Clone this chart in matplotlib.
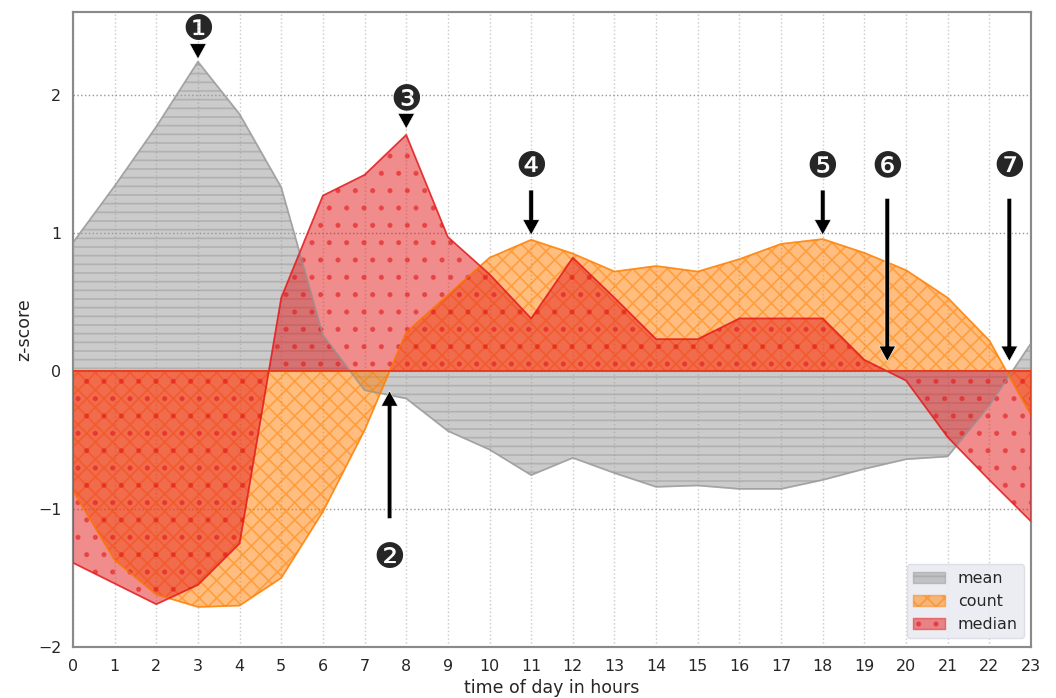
import matplotlib
matplotlib.use("Agg")
import matplotlib.pyplot as plt
import numpy as np

hours = list(range(24))
mean_z = [0.93, 1.34, 1.77, 2.24, 1.86, 1.33, 0.26, -0.14, -0.20, -0.435, -0.57, -0.755,
          -0.63, -0.74, -0.84, -0.83, -0.855, -0.855, -0.79, -0.71, -0.64, -0.62, -0.25, 0.20]
count_z = [-0.87, -1.37, -1.62, -1.71, -1.70, -1.50, -1.02, -0.43, 0.28, 0.55, 0.82, 0.95,
           0.85, 0.72, 0.76, 0.72, 0.81, 0.92, 0.955, 0.855, 0.73, 0.53, 0.22, -0.32]
median_z = [-1.39, -1.54, -1.69, -1.55, -1.25, 0.53, 1.27, 1.42, 1.71, 0.97, 0.70, 0.38,
            0.82, 0.53, 0.23, 0.23, 0.38, 0.38, 0.38, 0.08, -0.07, -0.48, -0.79, -1.09]
series_names = ["mean", "count", "median"]
y_ticks = [-2, -1, 0, 1, 2]

# label, arrow x, arrow tail y, arrow tip y, label y
notes = [("\u2776", 3, 2.37, 2.26, 2.47),
         ("\u2777", 7.6, -1.07, -0.145, -1.355),
         ("\u2778", 8, 1.865, 1.755, 1.957),
         ("\u2779", 11, 1.31, 0.985, 1.48),
         ("\u277a", 18, 1.31, 0.985, 1.485),
         ("\u277b", 19.55, 1.25, 0.07, 1.477),
         ("\u277c", 22.48, 1.25, 0.07, 1.477)]

DPI = 104
INK = "#262626"
plt.rcParams.update({"font.family": "DejaVu Sans", "hatch.linewidth": 1.2,
                     "text.color": INK, "axes.labelcolor": INK,
                     "xtick.color": INK, "ytick.color": INK})
fig = plt.figure(figsize=(1056 / DPI, 698 / DPI), dpi=DPI)
ax = fig.add_axes([73 / 1056, 1 - 647 / 698, 958 / 1056, 635 / 698])

styles = [("#999999", "--"), ("#ff7f00", "xx"), ("#e41a1c", ".")]
for vals, name, (col, hatch) in zip([mean_z, count_z, median_z], series_names, styles):
    ax.fill_between(hours, vals, 0, facecolor=col, edgecolor=col, hatch=hatch,
                    alpha=0.5, lw=1.0, label=name, zorder=2)
    ax.fill_between(hours, vals, 0, facecolor="none", edgecolor=col, lw=1.2, alpha=0.7, zorder=3)

ax.set_xlim(0, 23)
ax.set_ylim(-2, 2.6)
ax.set_xticks(hours)
ax.set_yticks(y_ticks)
ax.tick_params(length=0, pad=8, labelsize=11)
ax.grid(axis="x", ls=":", color="#cccccc", lw=1.0, zorder=1)
ax.grid(axis="y", ls=":", color="#999999", lw=1.0, zorder=1)
ax.set_axisbelow(True)
for s in ax.spines.values():
    s.set_color("#8a8a8a")
    s.set_linewidth(1.5)
ax.set_xlabel("time of day in hours", fontsize=12, labelpad=4)
ax.set_ylabel("z-score", fontsize=12, labelpad=3)

for lab, x, tail, tip, ty in notes:
    ax.annotate("", xy=(x, tip), xytext=(x, tail), zorder=6,
                arrowprops=dict(width=3.2, headwidth=11.5, headlength=10.5, shrink=0,
                                facecolor="k", edgecolor="white", lw=0.4))
    ax.text(x, ty, lab, ha="center", va="center", fontsize=24.5, color=INK, zorder=7)

leg = ax.legend(loc="lower right", bbox_to_anchor=(0.9927, 0.0142), borderaxespad=0,
                facecolor="#eaeaf2", edgecolor="#dcdce4", framealpha=0.9,
                fontsize=11, labelspacing=0.5)
fig.savefig("out.png", dpi=DPI)
